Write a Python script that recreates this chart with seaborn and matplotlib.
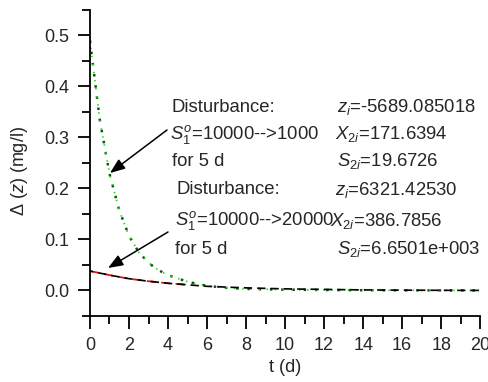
import numpy as np
import pandas as pd
import matplotlib
matplotlib.use("Agg")
import matplotlib.pyplot as plt
import seaborn as sns

# Data
t_green = [0, 0.5, 1, 1.5, 2, 2.5, 3, 3.5, 4, 5, 6, 7, 8, 10, 12, 14, 16, 18, 20]
d_green = [0.490, 0.335, 0.229, 0.157, 0.107, 0.075, 0.054, 0.040, 0.030, 0.017,
           0.009, 0.005, 0.003, 0.0015, 0.0008, 0.0004, 0.0002, 0.0001, 0.0]
t_black = [0, 1, 2, 3, 4, 5, 6, 8, 10, 12, 14, 16, 18, 20]
d_black = [0.038, 0.030, 0.023, 0.018, 0.014, 0.011, 0.008, 0.005, 0.003, 0.002,
           0.001, 0.0005, 0.0002, 0.0]
t_red = [0, 1, 2, 3, 4, 5]
d_red = [0.038, 0.030, 0.023, 0.018, 0.014, 0.011]

sns.set_style("ticks")
plt.rcParams['font.family'] = ['Liberation Sans', 'DejaVu Sans']
plt.rcParams['mathtext.fontset'] = 'custom'
plt.rcParams['mathtext.rm'] = 'Liberation Sans'
plt.rcParams['mathtext.it'] = 'Liberation Sans:italic'
plt.rcParams['mathtext.bf'] = 'Liberation Sans:bold'

fig = plt.figure(figsize=(4.89, 3.82), dpi=100)
ax = fig.add_axes([0.184, 0.173, 0.798, 0.801])

dfg = pd.DataFrame({"t": t_green, "d": d_green})
dfb = pd.DataFrame({"t": t_black, "d": d_black})
dfr = pd.DataFrame({"t": t_red, "d": d_red})

sns.lineplot(data=dfg, x="t", y="d", ax=ax, color="#115511", lw=1.8,
             linestyle=(0, (1, 3.5)))
sns.lineplot(data=dfg, x="t", y="d", ax=ax, color="#22dd22", lw=1.3,
             linestyle=(0.5, (0.8, 3.7)))
sns.lineplot(data=dfr, x="t", y="d", ax=ax, color="#dd1111", lw=1.3,
             linestyle=(0, (5, 3)))
sns.lineplot(data=dfb, x="t", y="d", ax=ax, color="black", lw=1.2,
             linestyle=(3, (5, 3)))

ax.set_xlim(0, 20)
ax.set_ylim(-0.05, 0.55)
ax.set_xticks(np.arange(0, 21, 2))
ax.set_xticks(np.arange(0, 21, 1), minor=True)
ax.set_yticks([0.0, 0.1, 0.2, 0.3, 0.4, 0.5])
ax.set_yticklabels(["0.0", "0.1", "0.2", "0.3", "0.4", "0.5"])
ax.set_yticks(np.arange(-0.05, 0.56, 0.05), minor=True)
ax.tick_params(axis='both', which='major', length=9, width=1.3,
               labelsize=13, direction='out', color='black')
ax.tick_params(axis='x', which='major', pad=6)
ax.tick_params(axis='y', which='major', pad=6)
ax.tick_params(axis='both', which='minor', length=5.5, width=1.3,
               direction='out', color='black')
for s in ['top', 'right']:
    ax.spines[s].set_visible(False)
for s in ['left', 'bottom']:
    ax.spines[s].set_linewidth(1.3)
    ax.spines[s].set_color('black')

ax.set_xlabel("")
ax.set_ylabel("")
fig.text(285 / 489, 1 - 368 / 382, "t (d)", fontsize=13, ha='center', va='center')
fig.text(20 / 489, 1 - 171 / 382, r"$\mathit{Δ\ (z)}$ (mg/l)", fontsize=13,
         ha='center', va='center', rotation=90)

fs = 13.3
def ftext(x, y, s, **kw):
    fig.text(x / 489, 1 - y / 382, s, fontsize=fs, va='center', ha='left', **kw)

ftext(172, 107, "Disturbance:")
ftext(170, 134, r"$\mathit{S}_{\mathit{1}}^{\mathit{o}}$=10000-->1000")
ftext(172, 161, "for 5 d")
ftext(177, 190, "Disturbance:")
ftext(175, 221, r"$\mathit{S}_{\mathit{1}}^{\mathit{o}}$=10000-->20000")
ftext(175, 249, "for 5 d")

ftext(337, 107, r"$\mathit{z}_{\mathit{i}}$=-5689.085018")
ftext(335, 134, r"$\mathit{X}_{\mathit{2i}}$=171.6394")
ftext(337, 161, r"$\mathit{S}_{\mathit{2i}}$=19.6726")
ftext(335, 190, r"$\mathit{z}_{\mathit{i}}$=6321.42530")
ftext(330, 221, r"$\mathit{X}_{\mathit{2i}}$=386.7856")
ftext(337, 249, r"$\mathit{S}_{\mathit{2i}}$=6.6501e+003")

def farrow(x0, y0, x1, y1):
    ax.annotate("", xy=(x1 / 489, 1 - y1 / 382), xycoords='figure fraction',
                xytext=(x0 / 489, 1 - y0 / 382), textcoords='figure fraction',
                arrowprops=dict(arrowstyle='-|>,head_length=0.9,head_width=0.35',
                                color='black', lw=1.1, shrinkA=0, shrinkB=0))

farrow(167, 130, 110, 173)
farrow(168, 232, 108, 268)

fig.savefig("out.png", dpi=100)
